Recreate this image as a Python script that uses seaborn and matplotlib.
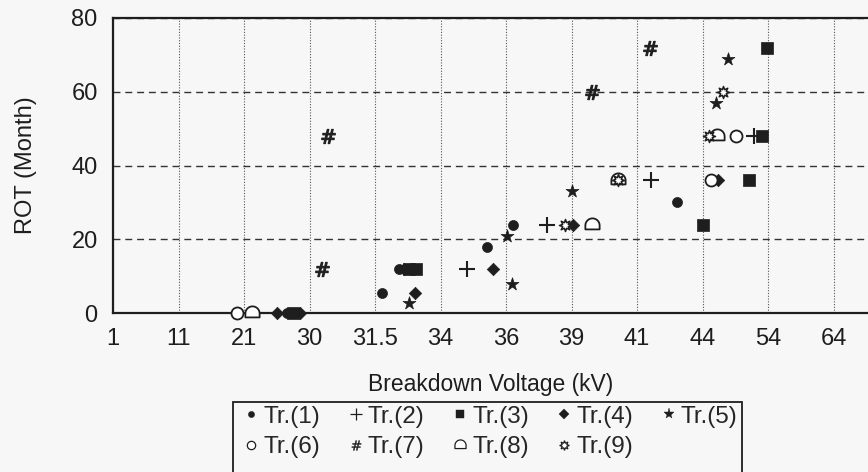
import numpy as np
import pandas as pd
import matplotlib
matplotlib.use("Agg")
import matplotlib.pyplot as plt
from matplotlib.lines import Line2D
from matplotlib.patches import Rectangle
from matplotlib.path import Path
import seaborn as sns

# breakdown voltage ticks are equally spaced categories on the x axis
voltage_ticks = ["1", "11", "21", "30", "31.5", "34", "36", "39", "41", "44", "54", "64"]
rot_ticks = [0, 20, 40, 60, 80]

# x = position along the voltage axis in tick-index units, y = ROT in months
tr1_pos = [2.65, 4.11, 4.36, 5.71, 6.11, 8.61]
tr1_rot = [0, 5.5, 12, 18, 24, 30]
tr2_pos = [5.40, 6.63, 8.21, 9.79]
tr2_rot = [12, 24, 36, 48]
tr3_pos = [2.75, 4.52, 4.63, 9.01, 9.71, 9.91, 9.98]
tr3_rot = [0, 12, 12, 24, 36, 48, 72]
tr4_pos = [2.50, 2.85, 4.45, 4.61, 5.80, 7.02, 9.24]
tr4_rot = [0, 0, 12, 5.5, 12, 24, 36]
tr5_pos = [4.52, 6.02, 6.09, 7.01, 9.21, 9.39]
tr5_rot = [2.7, 21, 8, 33, 57, 69]
tr6_pos = [1.89, 9.13, 9.51]
tr6_rot = [0, 36, 48]
tr7_pos = [3.19, 3.28, 7.31, 8.20]
tr7_rot = [12, 48, 60, 72]
tr8_pos = [2.12, 7.31, 7.71, 9.22]
tr8_rot = [0, 24, 36, 48]
tr9_pos = [6.90, 7.71, 9.10, 9.31]
tr9_rot = [24, 36, 48, 60]

series_labels = ["Tr.(1)", "Tr.(2)", "Tr.(3)", "Tr.(4)", "Tr.(5)",
                 "Tr.(6)", "Tr.(7)", "Tr.(8)", "Tr.(9)"]
all_pos = [tr1_pos, tr2_pos, tr3_pos, tr4_pos, tr5_pos, tr6_pos, tr7_pos, tr8_pos, tr9_pos]
all_rot = [tr1_rot, tr2_rot, tr3_rot, tr4_rot, tr5_rot, tr6_rot, tr7_rot, tr8_rot, tr9_rot]

df = pd.concat(
    [pd.DataFrame({"pos": p, "rot": r, "tr": lab}) for p, r, lab in zip(all_pos, all_rot, series_labels)],
    ignore_index=True,
)

# arch marker (flat bottom, round top) for Tr.(8)
th = np.linspace(0, np.pi, 25)
arch_verts = [(1.0, -0.55)] + list(zip(np.cos(th), np.sin(th))) + [(-1.0, -0.55), (1.0, -0.55)]
arch_codes = [Path.MOVETO] + [Path.LINETO] * (len(arch_verts) - 2) + [Path.CLOSEPOLY]
arch = Path(arch_verts, arch_codes)

ink = "#1e1e1e"
paper = "#f7f7f7"
# marker, size, face ("line" = line-art marker), linewidth, legend size
styles = {
    "Tr.(1)": ("o", 52, ink, 0.5, 4.5),
    "Tr.(2)": ("+", 125, "line", 1.5, 9),
    "Tr.(3)": ("s", 75, ink, 0.5, 6),
    "Tr.(4)": ("D", 40, ink, 0.5, 5),
    "Tr.(5)": ("*", 95, ink, 0.5, 8),
    "Tr.(6)": ("o", 75, "white", 1.3, 6),
    "Tr.(7)": (r"$\#$", 105, ink, 0.8, 7),
    "Tr.(8)": (arch, 105, "white", 1.3, 8),
    "Tr.(9)": ((8, 1, 0), 75, "white", 1.1, 7),
}

sns.set_style("white")
plt.rcParams["font.family"] = ["Liberation Sans", "DejaVu Sans"]

fig = plt.figure(figsize=(8.68, 4.72), dpi=100, facecolor=paper)
ax = fig.add_axes([113 / 868, 159 / 472, 755 / 868, 295 / 472])
ax.set_facecolor(paper)

for lab in series_labels:
    marker, size, face, lw, _ = styles[lab]
    kw = dict(marker=marker, s=size, linewidth=lw, zorder=4, clip_on=False)
    if face == "line":
        kw["color"] = ink
    else:
        kw["color"] = face
        kw["edgecolor"] = ink
    sns.scatterplot(data=df[df["tr"] == lab], x="pos", y="rot", ax=ax, legend=False, **kw)

ax.set_xlim(0, 755 / 65.5)
ax.set_ylim(0, 80)
ax.set_xticks(range(len(voltage_ticks)))
ax.set_xticklabels(voltage_ticks)
ax.set_yticks(rot_ticks)
ax.tick_params(length=0, labelsize=17, colors=ink, pad=11)

ax.set_axisbelow(True)
ax.grid(axis="x", linestyle=(0, (1, 1.5)), color="#555555", linewidth=0.8)
ax.grid(axis="y", linestyle=(0, (5, 3.5)), color="#333333", linewidth=1.0)

for side in ["left", "top", "bottom"]:
    ax.spines[side].set_color(ink)
    ax.spines[side].set_linewidth(1.6)
    ax.spines[side].set_zorder(3)
ax.spines["right"].set_visible(False)

ax.set_xlabel("Breakdown Voltage (kV)", fontsize=16.5, color=ink)
ax.xaxis.label.set_va("center")
ax.xaxis.set_label_coords(0.5, -(384 - 313) / 295)
ax.set_ylabel("ROT (Month)", fontsize=17, color=ink)
ax.yaxis.set_label_coords(-(113 - 37) / 755, 0.5)

handles = []
for lab in series_labels:
    marker, size, face, lw, ms = styles[lab]
    if face == "line":
        h = Line2D([], [], ls="none", marker=marker, color=ink, ms=ms, mew=0.9)
    else:
        h = Line2D([], [], ls="none", marker=marker, mfc=face, mec=ink, ms=ms, mew=0.9 if face == "white" else 0.3)
    handles.append(h)

# legend frame runs past the bottom edge of the picture
fig.patches.append(Rectangle((233 / 868, -0.05), (742 - 233) / 868, 0.05 + (472 - 402) / 472,
                             transform=fig.transFigure, facecolor=paper, edgecolor=ink,
                             linewidth=1.3, zorder=0))

order = [0, 5, 1, 6, 2, 7, 3, 8, 4]
fig.legend([handles[i] for i in order], [series_labels[i] for i in order],
           loc="upper left", bbox_to_anchor=(233 / 868, 1 - 402 / 472),
           ncol=5, fontsize=17.5, frameon=False, borderaxespad=0, borderpad=0.15,
           handlelength=1.2, handletextpad=-0.1, columnspacing=0.86, labelspacing=0.36)

fig.savefig("out.png", dpi=100, facecolor=paper)
